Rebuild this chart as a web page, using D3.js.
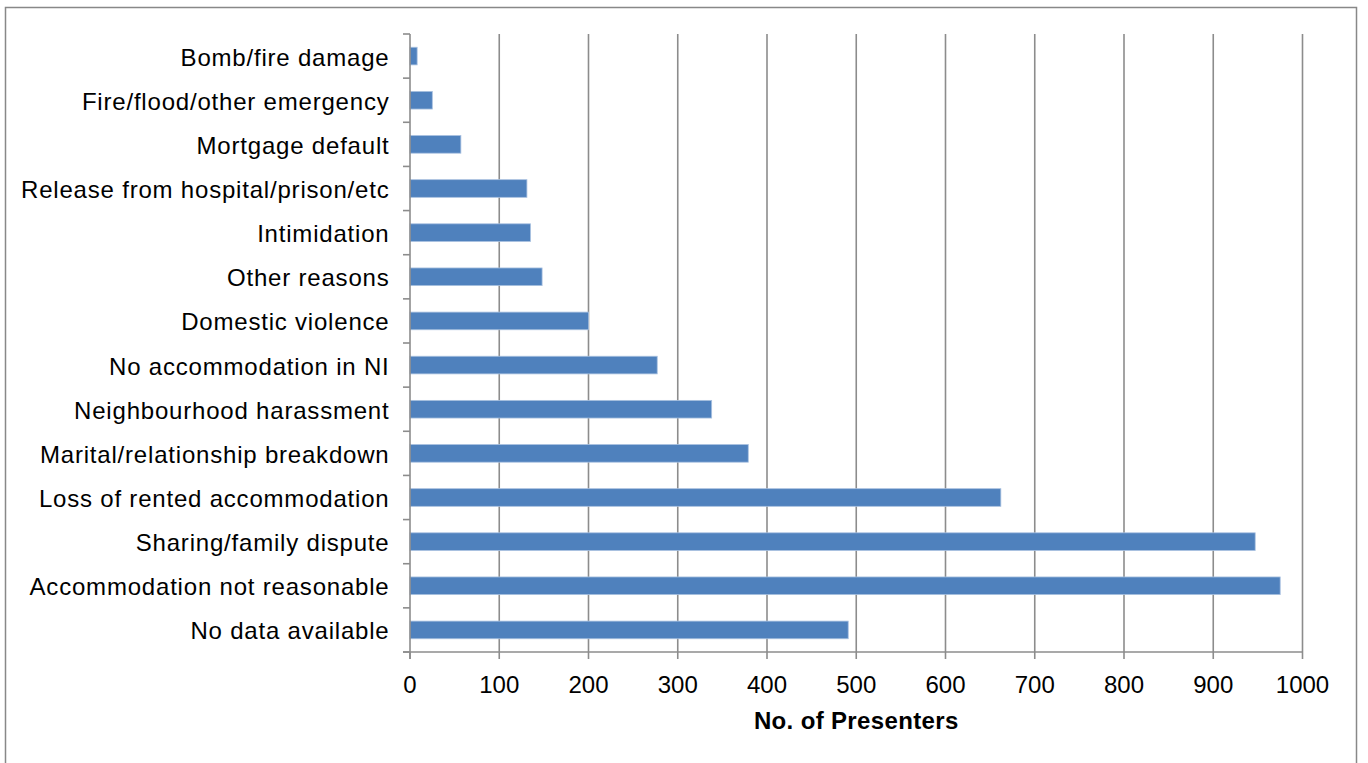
<!DOCTYPE html>
<html>
<head>
<meta charset="utf-8">
<script src="https://cdn.jsdelivr.net/npm/d3@7"></script>
<style>
  html, body { margin: 0; padding: 0; background: #fff; }
  svg { display: block; }
  text { font-family: "Liberation Sans", Arial, sans-serif; fill: #000; }
</style>
</head>
<body>
<svg id="chart" width="1368" height="763"></svg>
<script>
// Reasons for presenting as homeless, top to bottom
const categories = [
  "Bomb/fire damage",
  "Fire/flood/other emergency",
  "Mortgage default",
  "Release from hospital/prison/etc",
  "Intimidation",
  "Other reasons",
  "Domestic violence",
  "No accommodation in NI",
  "Neighbourhood harassment",
  "Marital/relationship breakdown",
  "Loss of rented accommodation",
  "Sharing/family dispute",
  "Accommodation not reasonable",
  "No data available"
];
const presenters = [8, 25, 57, 131, 135, 148, 200, 277, 338, 379, 662, 947, 975, 491];
const xTicks = [0, 100, 200, 300, 400, 500, 600, 700, 800, 900, 1000];
const xTitle = "No. of Presenters";

const svg = d3.select("#chart");

// outer chart frame
svg.append("rect")
  .attr("x", 5.5).attr("y", 7.5)
  .attr("width", 1351).attr("height", 770)
  .attr("fill", "#fff")
  .attr("stroke", "#888").attr("stroke-width", 1.5);

const plot = { left: 410, right: 1302.5, top: 34, bottom: 652 };

const x = d3.scaleLinear().domain([0, 1000]).range([plot.left, plot.right]);
const y = d3.scaleBand().domain(categories).range([plot.top, plot.bottom])
  .paddingInner(0.6).paddingOuter(0.3);
const yEdges = d3.scaleBand().domain(categories).range([plot.top, plot.bottom]);

// vertical gridlines
svg.append("g").selectAll("line")
  .data(xTicks.slice(1))
  .join("line")
  .attr("x1", d => x(d)).attr("x2", d => x(d))
  .attr("y1", plot.top).attr("y2", plot.bottom)
  .attr("stroke", "#8c8c8c").attr("stroke-width", 1.6);

// bars
svg.append("g").selectAll("rect")
  .data(categories.map((c, i) => ({ c, v: presenters[i] })))
  .join("rect")
  .attr("x", x(0))
  .attr("y", d => y(d.c))
  .attr("width", d => x(d.v) - x(0))
  .attr("height", y.bandwidth())
  .attr("fill", "#4f81bd")
  .attr("stroke", "#a9c1e0").attr("stroke-width", 0.8);

// y axis line with category separator ticks
const yAxis = svg.append("g");
yAxis.append("line")
  .attr("x1", plot.left).attr("x2", plot.left)
  .attr("y1", plot.top).attr("y2", plot.bottom + 7)
  .attr("stroke", "#8c8c8c").attr("stroke-width", 1.6);
const edges = categories.map(c => yEdges(c)).concat([plot.bottom]);
yAxis.selectAll("line.sep")
  .data(edges)
  .join("line").attr("class", "sep")
  .attr("x1", plot.left - 7).attr("x2", plot.left)
  .attr("y1", d => d).attr("y2", d => d)
  .attr("stroke", "#8c8c8c").attr("stroke-width", 1.6);
yAxis.selectAll("text")
  .data(categories)
  .join("text")
  .attr("x", 389.5)
  .attr("y", d => yEdges(d) + yEdges.bandwidth() / 2 + 9.5)
  .attr("text-anchor", "end")
  .style("font-size", "24px")
  .style("letter-spacing", "0.8px")
  .text(d => d);

// x axis
const xAxis = svg.append("g");
xAxis.append("line")
  .attr("x1", plot.left - 7).attr("x2", plot.right)
  .attr("y1", plot.bottom).attr("y2", plot.bottom)
  .attr("stroke", "#8c8c8c").attr("stroke-width", 1.6);
xAxis.selectAll("line.tick")
  .data(xTicks)
  .join("line").attr("class", "tick")
  .attr("x1", d => x(d)).attr("x2", d => x(d))
  .attr("y1", plot.bottom).attr("y2", plot.bottom + 7)
  .attr("stroke", "#8c8c8c").attr("stroke-width", 1.6);
xAxis.selectAll("text")
  .data(xTicks)
  .join("text")
  .attr("x", d => x(d))
  .attr("y", 692.5)
  .attr("text-anchor", "middle")
  .style("font-size", "24px")
  .text(d => d);

svg.append("text")
  .attr("x", x(500))
  .attr("y", 729)
  .attr("text-anchor", "middle")
  .style("font-size", "24px")
  .style("font-weight", "bold")
  .style("letter-spacing", "0.35px")
  .text(xTitle);
</script>
</body>
</html>
